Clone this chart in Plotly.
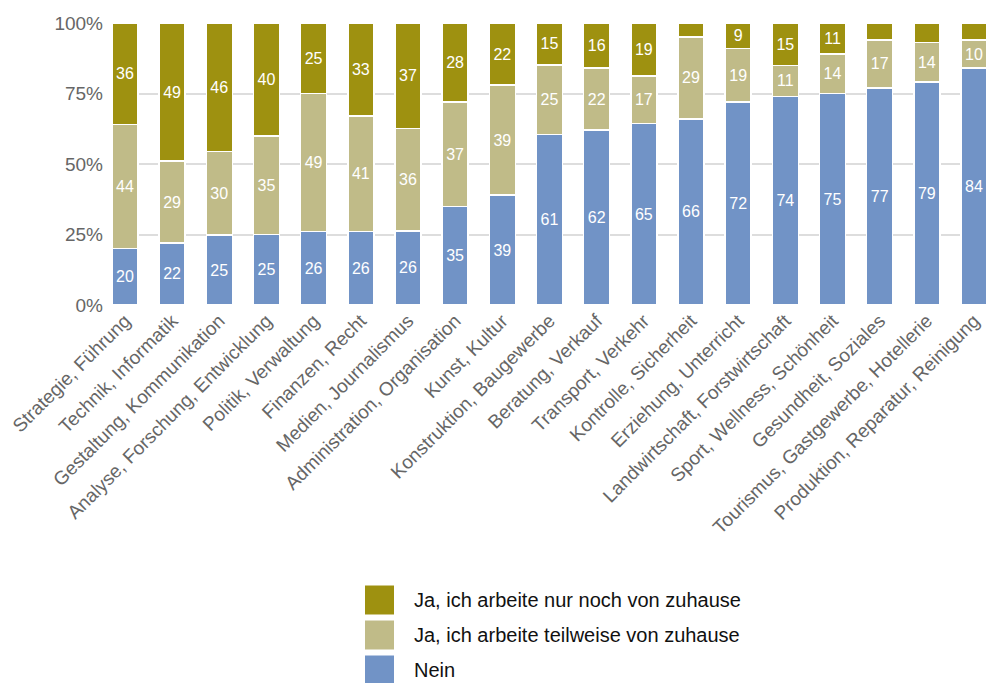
import plotly.graph_objects as go

categories = [
    "Strategie, Führung", "Technik, Informatik", "Gestaltung, Kommunikation",
    "Analyse, Forschung, Entwicklung", "Politik, Verwaltung", "Finanzen, Recht",
    "Medien, Journalismus", "Administration, Organisation", "Kunst, Kultur",
    "Konstruktion, Baugewerbe", "Beratung, Verkauf", "Transport, Verkehr",
    "Kontrolle, Sicherheit", "Erziehung, Unterricht", "Landwirtschaft, Forstwirtschaft",
    "Sport, Wellness, Schönheit", "Gesundheit, Soziales",
    "Tourismus, Gastgewerbe, Hotellerie", "Produktion, Reparatur, Reinigung",
]
nein = [20, 22, 25, 25, 26, 26, 26, 35, 39, 61, 62, 65, 66, 72, 74, 75, 77, 79, 84]
teilweise = [44, 29, 30, 35, 49, 41, 36, 37, 39, 25, 22, 17, 29, 19, 11, 14, 17, 14, 10]
nur_noch = [36, 49, 46, 40, 25, 33, 37, 28, 22, 15, 16, 19, 5, 9, 15, 11, 6, 7, 6]
y_ticks = [0, 25, 50, 75, 100]

series = [
    ("Nein", nein, "#7193c6"),
    ("Ja, ich arbeite teilweise von zuhause", teilweise, "#c0bb88"),
    ("Ja, ich arbeite nur noch von zuhause", nur_noch, "#9e9110"),
]
MIN_LABEL = 8
FONT = "Liberation Sans, Arial, sans-serif"

fig = go.Figure()
for name, vals, color in series:
    fig.add_trace(go.Bar(
        x=categories, y=vals, name=name,
        marker=dict(color=color, line=dict(color="white", width=1.5)),
        text=[str(v) if v >= MIN_LABEL else "" for v in vals],
        textposition="inside", insidetextanchor="middle", textangle=0,
        textfont=dict(color="white", size=16, family=FONT),
        constraintext="none",
        showlegend=False,
        hoverinfo="x+y+name",
    ))

# Custom legend (large squares), drawn in paper coordinates
top_px, bottom_px = 23, 305
plot_h = bottom_px - top_px
left_px, right_px = 112, 987
plot_w = right_px - left_px

def px_to_paper_x(px):
    return (px - left_px) / plot_w

def px_to_paper_y(py):
    return (bottom_px - py) / plot_h

legend_rows = [
    ("Ja, ich arbeite nur noch von zuhause", "#9e9110", 600),
    ("Ja, ich arbeite teilweise von zuhause", "#c0bb88", 635),
    ("Nein", "#7193c6", 670),
]
shapes = []
annotations = []
for label, color, cy in legend_rows:
    shapes.append(dict(
        type="rect", xref="paper", yref="paper",
        x0=px_to_paper_x(365), x1=px_to_paper_x(394),
        y0=px_to_paper_y(cy + 14.5), y1=px_to_paper_y(cy - 14.5),
        fillcolor=color, line=dict(width=0),
    ))
    annotations.append(dict(
        xref="paper", yref="paper", x=px_to_paper_x(412), y=px_to_paper_y(cy),
        text=label, showarrow=False, xanchor="left", yanchor="middle",
        font=dict(size=20, color="#111111", family=FONT),
    ))

fig.update_layout(
    width=990, height=683,
    barmode="stack", barnorm="percent", bargap=0.45,
    plot_bgcolor="white", paper_bgcolor="white",
    margin=dict(l=left_px, r=990 - right_px, t=top_px, b=683 - bottom_px, autoexpand=False),
    font=dict(family=FONT),
    showlegend=False,
    shapes=shapes, annotations=annotations,
    xaxis=dict(
        tickangle=-45, range=[-0.275, 18.275], automargin=False,
        tickfont=dict(size=19, color="#666666"),
        showgrid=False, zeroline=False, showline=False, ticks="",
    ),
    yaxis=dict(
        range=[0, 100], tickmode="array", tickvals=y_ticks,
        ticktext=[f"{t}%" for t in y_ticks], automargin=False,
        tickfont=dict(size=19, color="#666666"),
        showgrid=True, gridcolor="#dddddd", gridwidth=2,
        zeroline=False, showline=False, ticks="", ticklabelstandoff=8,
    ),
)

fig.write_html(
    "out.html",
    config={"displayModeBar": False},
    post_script="document.body.style.margin='0';document.body.style.overflow='hidden';",
)
